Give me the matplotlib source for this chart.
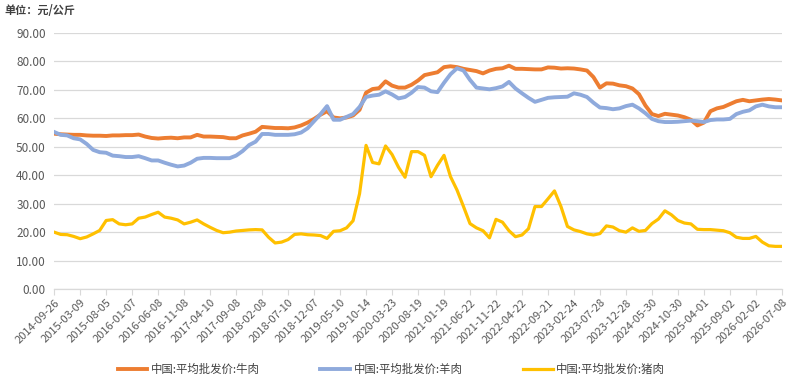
import numpy as np
import matplotlib
matplotlib.use("Agg")
import matplotlib.pyplot as plt

plt.rcParams['font.family'] = ['Noto Sans CJK SC', 'DejaVu Sans']

# category labels on the x axis (evenly spaced, as in the source chart)
date_labels = [
    "2014-09-26", "2015-03-09", "2015-08-05", "2016-01-07", "2016-06-08",
    "2016-11-08", "2017-04-10", "2017-09-08", "2018-02-08", "2018-07-10",
    "2018-12-07", "2019-05-10", "2019-10-14", "2020-03-23", "2020-08-19",
    "2021-01-19", "2021-06-22", "2021-11-22", "2022-04-22", "2022-09-21",
    "2023-02-24", "2023-07-28", "2023-12-28", "2024-05-30", "2024-10-30",
    "2025-04-01", "2025-09-02", "2026-02-02", "2026-07-08",
]

# values, four readings per label interval
beef = [
    54.6, 54.4, 54.3, 54.2, 54.2, 54.0, 53.9, 53.9, 53.8, 54.0,
    54.0, 54.1, 54.1, 54.3, 53.6, 53.1, 52.9, 53.1, 53.2, 53.0,
    53.3, 53.3, 54.2, 53.6, 53.6, 53.5, 53.4, 53.0, 53.0, 54.0,
    54.6, 55.3, 57.0, 56.8, 56.6, 56.6, 56.5, 56.8, 57.5, 58.5,
    59.8, 61.3, 62.5, 60.3, 60.0, 60.3, 61.0, 63.0, 69.0, 70.3,
    70.6, 73.0, 71.5, 70.8, 70.8, 71.8, 73.3, 75.2, 75.7, 76.2,
    78.0, 78.3, 78.0, 77.4, 77.0, 76.6, 75.8, 76.8, 77.4, 77.6,
    78.5, 77.4, 77.4, 77.3, 77.2, 77.2, 77.9, 77.8, 77.5, 77.6,
    77.5, 77.2, 76.8, 74.5, 70.8, 72.3, 72.2, 71.6, 71.3, 70.5,
    68.5, 64.5, 61.5, 60.8, 61.6, 61.3, 61.0, 60.4, 59.5, 57.5,
    58.5, 62.5, 63.5, 64.0, 65.0, 66.0, 66.5, 66.0, 66.3, 66.6,
    66.8, 66.6, 66.3,
]
mutton = [
    55.2, 54.2, 54.0, 53.0, 52.6, 51.0, 48.9, 48.1, 47.9, 46.9,
    46.7, 46.4, 46.4, 46.7, 46.0, 45.2, 45.2, 44.4, 43.7, 43.1,
    43.4, 44.4, 45.8, 46.1, 46.1, 46.0, 46.0, 46.0, 46.9, 48.5,
    50.6, 51.8, 54.5, 54.5, 54.2, 54.2, 54.2, 54.4, 55.0, 56.5,
    59.0, 61.5, 64.3, 59.5, 59.5, 60.5, 61.5, 64.0, 67.5, 68.0,
    68.3, 69.5, 68.4, 67.0, 67.5, 69.0, 71.0, 70.8, 69.5, 69.2,
    72.5, 75.5, 77.6, 76.8, 73.5, 70.8, 70.5, 70.2, 70.6, 71.2,
    72.8, 70.5, 68.8, 67.2, 65.8, 66.5, 67.2, 67.4, 67.5, 67.6,
    68.8, 68.3, 67.5, 65.5, 63.8, 63.6, 63.2, 63.5, 64.3, 64.8,
    63.5, 61.8, 59.8, 59.0, 58.7, 58.7, 58.8, 59.0, 59.2, 59.0,
    58.7, 59.4, 59.6, 59.6, 59.8, 61.5, 62.3, 62.8, 64.2, 64.8,
    64.2, 63.9, 63.9,
]
pork = [
    20.0, 19.2, 19.1, 18.5, 17.7, 18.3, 19.4, 20.6, 24.1, 24.4,
    22.9, 22.6, 22.9, 24.9, 25.3, 26.2, 27.0, 25.3, 24.9, 24.3,
    22.9, 23.5, 24.3, 22.9, 21.7, 20.6, 19.8, 20.0, 20.4, 20.6,
    20.8, 20.9, 20.8, 18.2, 16.2, 16.5, 17.4, 19.2, 19.4, 19.1,
    19.0, 18.8, 17.8, 20.3, 20.5, 21.5, 24.0, 33.5, 50.5, 44.5,
    44.0, 50.3, 47.3, 42.8, 39.3, 48.3, 48.3, 47.0, 39.5, 43.5,
    47.0, 39.5, 34.8, 29.0, 23.0, 21.5, 20.5, 18.0, 24.5, 23.5,
    20.5, 18.4, 19.0, 21.2, 29.0, 29.0, 31.7, 34.5, 29.0, 22.0,
    20.8, 20.2, 19.4, 19.0, 19.5, 22.2, 21.8, 20.5, 20.0, 21.5,
    20.3, 20.6, 23.0, 24.6, 27.5, 26.1, 24.1, 23.2, 22.9, 21.0,
    20.9, 20.9, 20.7, 20.5, 19.8, 18.2, 17.8, 17.8, 18.5, 16.5,
    15.2, 15.0, 15.0,
]

series_names = ["中国:平均批发价:牛肉", "中国:平均批发价:羊肉", "中国:平均批发价:猪肉"]
colors = ["#ED7D31", "#8FAADC", "#FFC000"]

x = np.arange(len(beef)) / 4.0

fig = plt.figure(figsize=(7.97, 3.88), dpi=100)
ax = fig.add_axes([0.068, 0.255, 0.913, 0.66])

ax.plot(x, beef, color=colors[0], lw=2.8, label=series_names[0])
ax.plot(x, mutton, color=colors[1], lw=2.8, label=series_names[1])
ax.plot(x, pork, color=colors[2], lw=2.3, label=series_names[2])

ax.set_ylim(0, 90)
ax.set_yticks(np.arange(0, 91, 10))
ax.set_yticklabels([f"{v:.2f}" for v in np.arange(0, 91, 10)])
ax.set_xlim(0, len(date_labels) - 1)
ax.set_xticks(np.arange(len(date_labels)))
ax.set_xticklabels(date_labels, rotation=45, ha='right', rotation_mode='anchor')

ax.grid(axis='y', color='#D9D9D9', lw=0.9)
ax.set_axisbelow(True)
for s in ['top', 'right', 'left']:
    ax.spines[s].set_visible(False)
ax.spines['bottom'].set_color('#D9D9D9')
ax.spines['bottom'].set_linewidth(0.9)
ax.tick_params(axis='y', length=0, pad=6, labelsize=8.5, labelcolor='#595959')
ax.tick_params(axis='x', length=4, color='#D9D9D9', pad=2, labelsize=8, labelcolor='#595959')

fig.text(0.006, 0.972, "单位：元/公斤", fontsize=8, fontweight='bold', color='#404040', va='center')

fig.legend(loc='center', bbox_to_anchor=(0.491, 0.049), ncol=3, frameon=False,
           fontsize=8.2, handlelength=2.6, handletextpad=0.3, columnspacing=5.35,
           labelcolor='#404040')

fig.savefig("out.png", dpi=100)
